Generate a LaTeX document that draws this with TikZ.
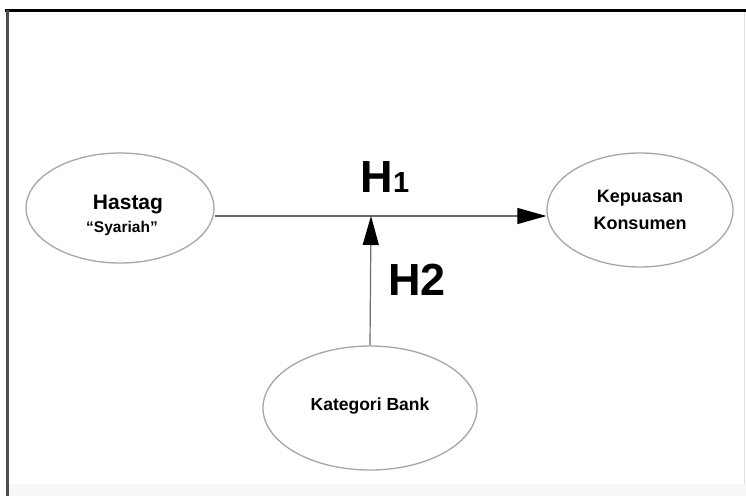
\documentclass[tikz,border=0pt]{standalone}
\usepackage{fontspec}
\setmainfont{Liberation Sans}
\usetikzlibrary{arrows.meta,shapes.geometric}

\begin{document}
\begin{tikzpicture}
        [x=1pt, y=-1pt,
        var/.style={ellipse, draw=gray!70, line width=1.3pt, fill=white, inner sep=0pt, font=\bfseries},
        link/.style={gray!85!black, line width=1.2pt},
        head/.style={-{Triangle[length=29pt, width=16pt, black]}},
        hyp/.style={font=\fontsize{45}{45}\selectfont\bfseries, inner sep=0pt}]

        \useasboundingbox (0,0) rectangle (746,496);
        \fill[gray!6] (8,484) rectangle (746,496);

        % frame
        \draw[black, line width=3pt] (5,10) -- (746,10);
        \draw[gray!60!black, line width=3pt] (7,10) -- (7,496);
        \draw[gray!25, line width=0.8pt] (744,12) -- (744,484);

        % variables
        \node[var, minimum width=188pt, minimum height=110pt] (x) at (120,208) {};
        \node[font=\fontsize{21}{21}\selectfont\bfseries] (xa) at (128,204) {Hastag};
        \node[font=\fontsize{15.5}{15.5}\selectfont\bfseries] (xb) at (122,228) {“Syariah”};
        \node[var, minimum width=186pt, minimum height=114pt, align=center,
              font=\fontsize{18}{27}\selectfont\bfseries] (y) at (640,210) {Kepuasan\\Konsumen};
        \node[var, minimum width=214pt, minimum height=124pt] (z) at (370,408) {};
        \node[font=\fontsize{17.5}{17.5}\selectfont\bfseries] (za) at (370,406) {Kategori Bank};

        % paths
        \coordinate (m) at (371,216);
        \draw[link, head] (x.east |- m) -- (y.west |- m);
        \draw[link, head] (z.north) -- (m);

        % hypotheses
        \node[hyp] (h1) at (385,177) {H{\fontsize{29}{29}\selectfont 1}};
        \node[hyp] (h2) at (417,280) {H2};

    \end{tikzpicture}
\end{document}
